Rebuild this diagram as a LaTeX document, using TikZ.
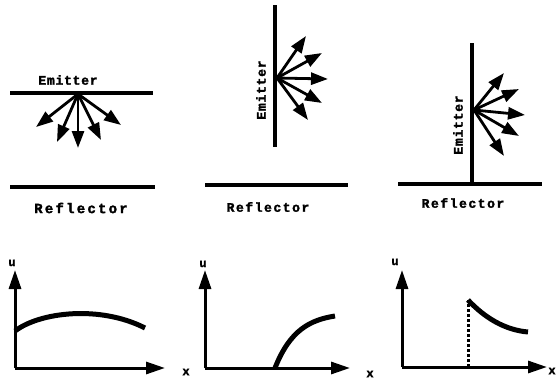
\documentclass[tikz,border=0pt]{standalone}
\usepackage{fontspec}
\newfontfamily\twfont[LetterSpace=6,FakeBold=2]{Liberation Mono}
\newfontfamily\twfontw[LetterSpace=12,FakeBold=2]{Liberation Mono}
\newfontfamily\twfontww[LetterSpace=16,FakeBold=2]{Liberation Mono}
\usetikzlibrary{arrows.meta}
\tikzset{
  wall/.style={line width=3.5pt},
  ray/.style={line width=2.8pt,-{Triangle[length=17pt,width=12pt]}},
  axis/.style={line width=3pt,-{Triangle[length=19pt,width=12pt]}},
  curve/.style={line width=5pt},
  lbl/.style={font=\twfont\bfseries\fontsize{13}{13}\selectfont,inner sep=0pt},
  rlbl/.style={font=\twfontw\bfseries\fontsize{13}{13}\selectfont,inner sep=0pt},
  rlblw/.style={font=\twfontww\bfseries\fontsize{14}{14}\selectfont,inner sep=0pt},
  axlbl/.style={font=\twfont\bfseries\fontsize{12}{12}\selectfont,inner sep=0pt}
}
\begin{document}
\begin{tikzpicture}[x=1pt,y=-1pt]
\useasboundingbox (0,0) rectangle (557,380);
% ---------- panel 1 ----------
\coordinate (e1a) at (10,93); \coordinate (e1b) at (153,93);
\draw[wall] (e1a) -- (e1b);
\coordinate (r1a) at (10,187); \coordinate (r1b) at (155,187);
\draw[wall] (r1a) -- (r1b);
\node[lbl] (em1) at (68,80) {Emitter};
\node[rlblw] (rf1) at (81,208) {Reflector};
\coordinate (o1) at (78,94);
\foreach \a/\b [count=\i] in {36/127,57/142,78/148,101/140,121/125}
  \coordinate (t1\i) at (\a,\b);
\foreach \i in {1,...,5} \draw[ray] (o1) -- (t1\i);
% ---------- panel 2 ----------
\coordinate (e2a) at (275,5); \coordinate (e2b) at (275,147);
\draw[wall] (e2a) -- (e2b);
\coordinate (r2a) at (205,185); \coordinate (r2b) at (348,185);
\draw[wall] (r2a) -- (r2b);
\node[lbl,rotate=90] (em2) at (261,90) {Emitter};
\node[rlbl] (rf2) at (268,207) {Reflector};
\coordinate (o2) at (277,78);
\foreach \a/\b [count=\i] in {306/36,322/53,328/79,322/103,308/120}
  \coordinate (t2\i) at (\a,\b);
\foreach \i in {1,...,5} \draw[ray] (o2) -- (t2\i);
% ---------- panel 3 ----------
\coordinate (e3a) at (472,43); \coordinate (e3b) at (472,184);
\draw[wall] (e3a) -- (e3b);
\coordinate (r3a) at (398,184); \coordinate (r3b) at (542,184);
\draw[wall] (r3a) -- (r3b);
\node[lbl,rotate=90] (em3) at (458,125) {Emitter};
\node[rlbl] (rf3) at (463,203) {Reflector};
\coordinate (o3) at (474,110);
\foreach \a/\b [count=\i] in {504/73,519/89,525/115,519/136,504/156}
  \coordinate (t3\i) at (\a,\b);
\foreach \i in {1,...,5} \draw[ray] (o3) -- (t3\i);
% ---------- graph 1 ----------
\coordinate (g1o) at (15,368);
\coordinate (g1y) at (15,270); \coordinate (g1x) at (165,368);
\draw[axis] (g1o) -- (g1y);
\draw[axis] (g1o) -- (g1x);
\node[axlbl] (u1) at (12,263) {u};
\node[axlbl] (x1) at (186,372) {x};
\draw[curve] (15,331) .. controls (40,312) and (100,305) .. (145,328);
% ---------- graph 2 ----------
\coordinate (g2o) at (205,368);
\coordinate (g2y) at (205,270); \coordinate (g2x) at (350,368);
\draw[axis] (g2o) -- (g2y);
\draw[axis] (g2o) -- (g2x);
\node[axlbl] (u2) at (203,264) {u};
\node[axlbl] (x2) at (370,374) {x};
\draw[curve] (275,368) .. controls (290,330) and (310,320) .. (335,316);
% ---------- graph 3 ----------
\coordinate (g3o) at (402,367);
\coordinate (g3y) at (402,270); \coordinate (g3x) at (547,367);
\draw[axis] (g3o) -- (g3y);
\draw[axis] (g3o) -- (g3x);
\node[axlbl] (u3) at (395,262) {u};
\node[axlbl] (x3) at (552,371) {x};
\coordinate (d3a) at (468,367); \coordinate (d3b) at (468,300);
\draw[line width=3pt,dash pattern=on 3pt off 2pt] (d3a) -- (d3b);
\draw[curve] (468,300) .. controls (485,318) and (505,330) .. (528,332);
\end{tikzpicture}
\end{document}
